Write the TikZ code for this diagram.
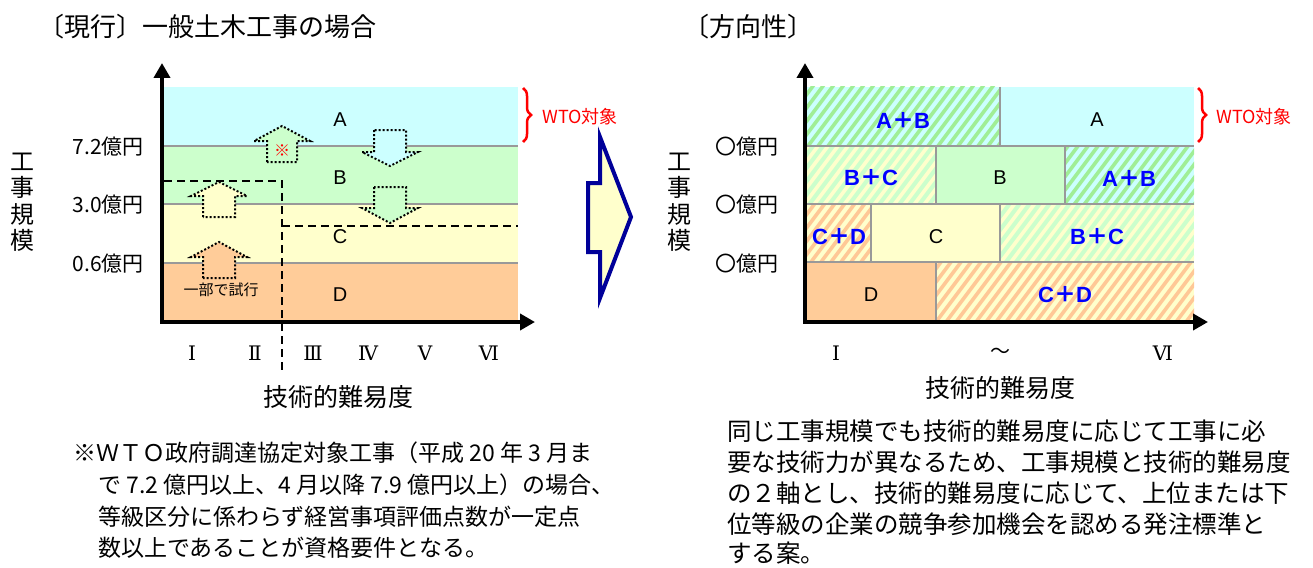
\documentclass[tikz,border=0pt]{standalone}
\usepackage{fontspec}
\setmainfont{Liberation Sans}
\newfontfamily\jp{Noto Sans CJK JP}
\newfontfamily\rmn{DejaVu Serif}
\usetikzlibrary{arrows.meta,decorations.pathreplacing,positioning}
\definecolor{colA}{HTML}{CCFFFF}
\definecolor{colB}{HTML}{CCFFCC}
\definecolor{colC}{HTML}{FFFFCC}
\definecolor{colD}{HTML}{FFCC99}
\definecolor{stripeG}{HTML}{A0EE96}
\definecolor{stripeO}{HTML}{FFC896}
\definecolor{gridgray}{HTML}{999999}
\definecolor{navy}{HTML}{000099}
\definecolor{labelblue}{HTML}{0000FF}
\newcommand{\fsz}[1]{\fontsize{#1}{#1}\selectfont}
\newcommand{\pls}{{\jp\bfseries ＋}}
% hatched cell: x1, y1, x2, y2, base colour, stripe colour
\newcommand{\hatchcell}[6]{%
  \begin{scope}
    \clip (#1,#2) rectangle (#3,#4);
    \fill[#5] (#1,#2) rectangle (#3,#4);
    \foreach \s in {610,620,...,1200}
      \draw[#6, line width=3.6pt] (\s,330) -- (\s+195,70);
  \end{scope}}

\begin{document}
\begin{tikzpicture}[x=1pt, y=-1pt,
    axis/.style={line width=4pt, -{Triangle[width=16pt,length=15pt]}},
    band/.style={gridgray, line width=2.5pt},
    dashline/.style={line width=2pt, dash pattern=on 8pt off 5pt},
    dotarrow/.style={line width=2pt, dash pattern=on 2pt off 2pt},
    bigarrow/.style={draw=navy, fill=colC, line width=4pt},
    wtobrace/.style={red, line width=2.5pt, decorate, decoration={brace, amplitude=8pt}},
    title/.style={font=\jp\fsz{26}, inner sep=0pt, anchor=west},
    axislabel/.style={font=\jp\fsz{25}, inner sep=0pt},
    scalelabel/.style={font=\jp\fontsize{24}{26.5}\selectfont, inner sep=0pt, align=center},
    money/.style={font=\jp\fsz{21}, inner sep=0pt, anchor=east},
    grade/.style={font=\rmn\fsz{20}, inner sep=0pt},
    rank/.style={font=\fsz{20}, inner sep=0pt},
    mixrank/.style={font=\bfseries\fsz{22}, text=labelblue, inner sep=0pt},
    wto/.style={font=\jp\fsz{18}, text=red, inner sep=0pt, anchor=west},
    note/.style={font=\jp\fsz{23}, inner sep=0pt, anchor=west},
    plan/.style={font=\jp\fsz{24.5}, inner sep=0pt, anchor=west},
  ]
    \useasboundingbox (0,0) rectangle (1313,567);

    % Current system
    \node[title] (titleL) at (38,27) {〔現行〕一般土木工事の場合};

    \fill[colA] (164,87) rectangle (518,146);
    \fill[colB] (164,146) rectangle (518,204);
    \fill[colC] (164,204) rectangle (518,263);
    \fill[colD] (164,263) rectangle (518,320);
    \foreach \y in {146,204,263}
      \draw[band] (164,\y) -- (518,\y);

    \draw[dashline] (164,181) -- (282,181) -- (282,372);
    \draw[dashline] (282,226) -- (518,226);

    % Moves between grades
    \draw[dotarrow, fill=colB] (267,162) -- (267,141) -- (254,141) -- (282,126) -- (310,141) -- (297,141) -- (297,162) -- cycle;
    \draw[dotarrow, fill=colC] (203,217) -- (203,196) -- (191,196) -- (219,182) -- (247,196) -- (235,196) -- (235,217) -- cycle;
    \draw[dotarrow, fill=colD] (203,278) -- (203,257) -- (191,257) -- (219,242) -- (247,257) -- (235,257) -- (235,278) -- cycle;
    \draw[dotarrow, fill=colA] (374,130) -- (374,152) -- (362,152) -- (390,166) -- (418,152) -- (406,152) -- (406,130) -- cycle;
    \draw[dotarrow, fill=colB] (374,187) -- (374,208) -- (362,208) -- (390,223) -- (418,208) -- (406,208) -- (406,187) -- cycle;
    \node[font=\jp\fsz{16}, text=red, inner sep=0pt] (mark) at (282,151) {※};
    \node[font=\jp\fsz{15}, inner sep=0pt] (trial) at (221,290) {一部で試行};

    \node[rank] (rankA) at (340,120) {A};
    \node[rank] (rankB) at (340,178) {B};
    \node[rank] (rankC) at (340,237) {C};
    \node[rank] (rankD) at (340,295) {D};

    \draw[axis] (162,322) -- (162,63);
    \draw[axis] (160,322) -- (535,322);

    \node[scalelabel] (scaleL) at (22,202) {工\\事\\規\\模};
    \node[money] (m72) at (144,147) {7.2億円};
    \node[money] (m30) at (144,205) {3.0億円};
    \node[money] (m06) at (144,264) {0.6億円};

    \node[grade] (gI) at (192,353) {Ⅰ};
    \node[grade] (gII) at (255,353) {Ⅱ};
    \node[grade] (gIII) at (313,353) {Ⅲ};
    \node[grade] (gIV) at (368,353) {Ⅳ};
    \node[grade] (gV) at (425,353) {Ⅴ};
    \node[grade] (gVI) at (489,353) {Ⅵ};
    \node[axislabel] (diffL) at (338,397) {技術的難易度};

    \draw[wtobrace] (523,88) -- (523,142);
    \node[wto] (wtoL) at (542,117) {WTO対象};

    % Footnote
    \node[note] (note1) at (73,453) {※ＷＴＯ政府調達協定対象工事（平成 20 年 3 月ま};
    \node[note] (note2) at (98,485) {で 7.2 億円以上、4 月以降 7.9 億円以上）の場合、};
    \node[note] (note3) at (98,517) {等級区分に係わらず経営事項評価点数が一定点};
    \node[note] (note4) at (98,548) {数以上であることが資格要件となる。};

    % Transition
    \draw[bigarrow] (600,137) -- (600,183) -- (588,183) -- (588,252) -- (600,252) -- (600,298) -- (631,217) -- cycle;

    % Proposed direction
    \node[title] (titleR) at (683,27) {〔方向性〕};

    \hatchcell{807}{87}{1000}{146}{colA}{stripeG}
    \fill[colA] (1000,87) rectangle (1194,146);
    \hatchcell{807}{146}{936}{204}{colB}{colC}
    \fill[colB] (936,146) rectangle (1065,204);
    \hatchcell{1065}{146}{1194}{204}{colA}{stripeG}
    \hatchcell{807}{204}{871}{262}{colC}{stripeO}
    \fill[colC] (871,204) rectangle (1000,262);
    \hatchcell{1000}{204}{1194}{262}{colB}{colC}
    \fill[colD] (807,262) rectangle (936,320);
    \hatchcell{936}{262}{1194}{320}{colC}{stripeO}

    \foreach \y in {146,204,262}
      \draw[band] (807,\y) -- (1194,\y);
    \draw[band] (1000,87) -- (1000,146);
    \draw[band] (936,146) -- (936,204);
    \draw[band] (1065,146) -- (1065,204);
    \draw[band] (871,204) -- (871,262);
    \draw[band] (1000,204) -- (1000,262);
    \draw[band] (936,262) -- (936,320);

    \node[mixrank] (ab1) at (903,120) {A\pls B};
    \node[rank] (newA) at (1097,120) {A};
    \node[mixrank] (bc1) at (871,178) {B\pls C};
    \node[rank] (newB) at (1000,178) {B};
    \node[mixrank] (ab2) at (1129,178) {A\pls B};
    \node[mixrank] (cd1) at (839,237) {C\pls D};
    \node[rank] (newC) at (936,237) {C};
    \node[mixrank] (bc2) at (1097,237) {B\pls C};
    \node[rank] (newD) at (871,295) {D};
    \node[mixrank] (cd2) at (1065,295) {C\pls D};

    \draw[axis] (805,322) -- (805,63);
    \draw[axis] (803,322) -- (1208,322);

    \node[scalelabel] (scaleR) at (679,202) {工\\事\\規\\模};
    \node[money] (o1) at (779,147) {〇億円};
    \node[money] (o2) at (779,205) {〇億円};
    \node[money] (o3) at (779,264) {〇億円};

    \node[grade] (hI) at (836,353) {Ⅰ};
    \node[font=\jp\fsz{20}, inner sep=0pt] (hTo) at (1000,353) {～};
    \node[grade] (hVI) at (1163,353) {Ⅵ};
    \node[axislabel] (diffR) at (1000,388) {技術的難易度};

    \draw[wtobrace] (1198,88) -- (1198,142);
    \node[wto] (wtoR) at (1216,117) {WTO対象};

    % Explanation
    \node[plan] (plan1) at (727,431) {同じ工事規模でも技術的難易度に応じて工事に必};
    \node[plan] (plan2) at (727,462) {要な技術力が異なるため、工事規模と技術的難易度};
    \node[plan] (plan3) at (727,493) {の２軸とし、技術的難易度に応じて、上位または下};
    \node[plan] (plan4) at (727,524) {位等級の企業の競争参加機会を認める発注標準と};
    \node[plan] (plan5) at (727,553) {する案。};
\end{tikzpicture}
\end{document}
